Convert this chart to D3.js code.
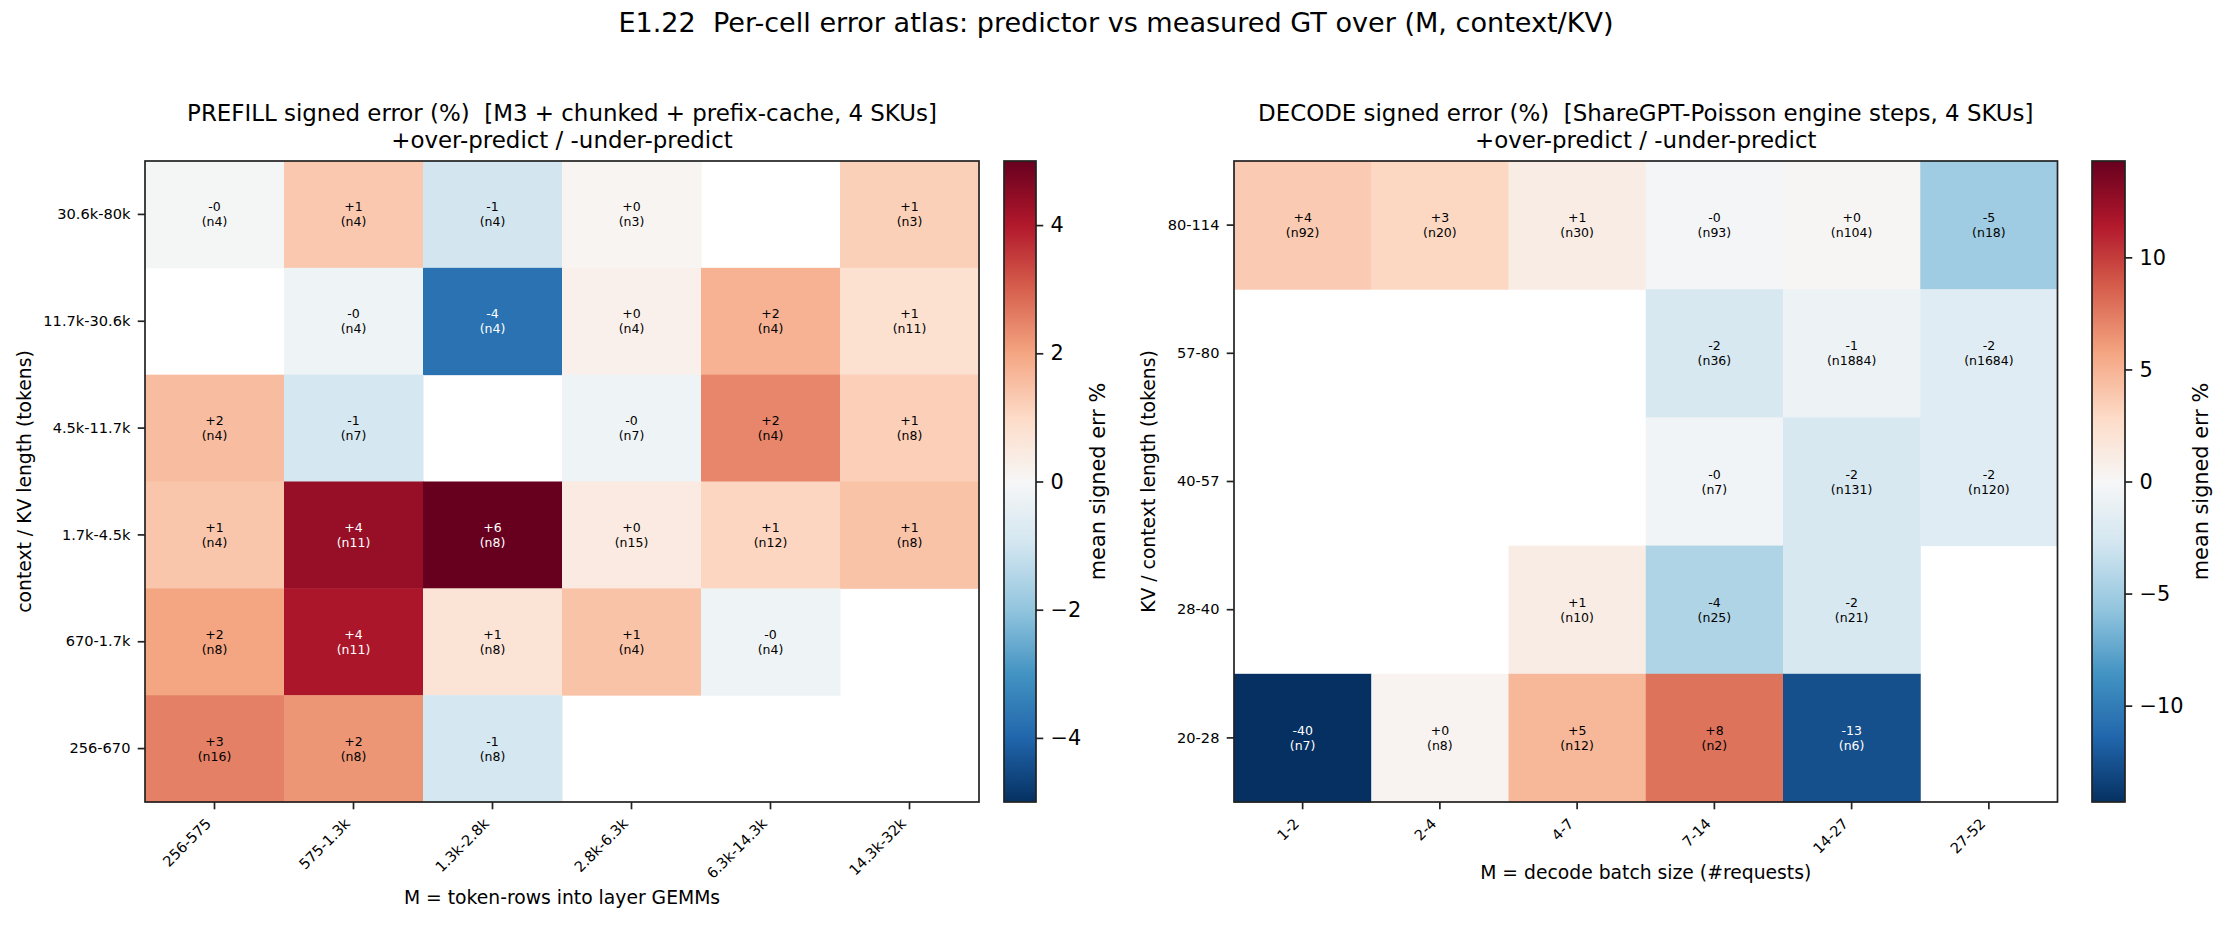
<!DOCTYPE html>
<html><head><meta charset="utf-8">
<script src="https://cdn.jsdelivr.net/npm/d3@7"></script>
<style>body{margin:0;background:#fff} svg{display:block} text{font-family:"DejaVu Sans";white-space:pre;}</style>
</head><body><svg id="c" width="2227" height="925"></svg>
<script>
// ---------------- data ----------------
const prefillCols = ["256-575","575-1.3k","1.3k-2.8k","2.8k-6.3k","6.3k-14.3k","14.3k-32k"];
const prefillRows = ["30.6k-80k","11.7k-30.6k","4.5k-11.7k","1.7k-4.5k","670-1.7k","256-670"];
const prefillErr = [
  [-0.08, 1.35, -0.95, 0.1, null, 1.2],
  [null, -0.24, -3.74, 0.25, 1.76, 0.82],
  [1.57, -0.9, null, -0.24, 2.45, 1.22],
  [1.39, 4.37, 5.8, 0.45, 1.09, 1.45],
  [2.0, 4.09, 0.68, 1.45, -0.24, null],
  [2.54, 2.22, -0.9, null, null, null]
];
const prefillN = [
  [4, 4, 4, 3, null, 3],
  [null, 4, 4, 4, 4, 11],
  [4, 7, null, 7, 4, 8],
  [4, 11, 8, 15, 12, 8],
  [8, 11, 8, 4, 4, null],
  [16, 8, 8, null, null, null]
];
const prefillLimit = 5;
const prefillCbTicks = [-4, -2, 0, 2, 4];

const decodeCols = ["1-2","2-4","4-7","7-14","14-27","27-52"];
const decodeRows = ["80-114","57-80","40-57","28-40","20-28"];
const decodeErr = [
  [3.72, 3.02, 1.12, -0.3, 0.2, -5.12],
  [null, null, null, -2.4, -0.75, -1.73],
  [null, null, null, -0.45, -2.4, -1.8],
  [null, null, 1.1, -4.4, -2.4, null],
  [-40, 0.4, 4.77, 7.8, -12.67, null]
];
const decodeN = [
  [92, 20, 30, 93, 104, 18],
  [null, null, null, 36, 1884, 1684],
  [null, null, null, 7, 131, 120],
  [null, null, 10, 25, 21, null],
  [7, 8, 12, 2, 6, null]
];
const decodeLimit = 14.3;
const decodeCbTicks = [-10, -5, 0, 5, 10];

const suptitle = "E1.22  Per-cell error atlas: predictor vs measured GT over (M, context/KV)";
const prefillTitle = ["PREFILL signed error (%)  [M3 + chunked + prefix-cache, 4 SKUs]", "+over-predict / -under-predict"];
const decodeTitle = ["DECODE signed error (%)  [ShareGPT-Poisson engine steps, 4 SKUs]", "+over-predict / -under-predict"];
const prefillXLabel = "M = token-rows into layer GEMMs";
const prefillYLabel = "context / KV length (tokens)";
const decodeXLabel = "M = decode batch size (#requests)";
const decodeYLabel = "KV / context length (tokens)";
const cbLabel = "mean signed err %";

// ---------------- style ----------------
const PT = 150 / 72;
const INK = "#222";
const RDBU_R = ["#053061","#2166ac","#4393c3","#92c5de","#d1e5f0","#f7f7f7","#fddbc7","#f4a582","#d6604d","#b2182b","#67001f"];

const svg = d3.select("#c");

svg.append("text")
  .attr("x", 1116).attr("y", 32)
  .attr("text-anchor", "middle")
  .attr("font-size", 13 * PT)
  .attr("fill", "#000")
  .text(suptitle);

function fmt(v) {
  const s = Math.abs(v).toFixed(0);
  return (v < 0 ? "-" : "+") + s;
}

function panel(cfg) {
  const g = svg.append("g");
  const x = d3.scaleBand().domain(cfg.cols).range([cfg.left, cfg.right]);
  const y = d3.scaleBand().domain(cfg.rows).range([cfg.top, cfg.bottom]);
  const L = cfg.limit;
  const color = d3.scaleLinear()
    .domain(d3.range(11).map(i => -L + i * 2 * L / 10))
    .range(RDBU_R)
    .interpolate(d3.interpolateRgb)
    .clamp(true);

  const cells = [];
  cfg.vals.forEach((row, ri) => row.forEach((v, ci) => {
    if (v !== null) cells.push({ r: cfg.rows[ri], c: cfg.cols[ci], v, n: cfg.n[ri][ci] });
  }));

  g.selectAll("rect.cell").data(cells).join("rect")
    .attr("class", "cell")
    .attr("x", d => x(d.c)).attr("y", d => y(d.r))
    .attr("width", x.bandwidth() + 0.5).attr("height", y.bandwidth() + 0.5)
    .attr("fill", d => color(d.v));

  const fs = 6 * PT;
  const lab = g.selectAll("g.lab").data(cells).join("g")
    .attr("class", "lab")
    .attr("transform", d => `translate(${x(d.c) + x.bandwidth() / 2},${y(d.r) + y.bandwidth() / 2})`)
    .attr("fill", d => Math.abs(d.v) > 0.6 * L ? "#fff" : "#000")
    .attr("font-size", fs)
    .attr("text-anchor", "middle");
  lab.append("text").attr("y", -7.5).attr("dominant-baseline", "central").text(d => fmt(d.v));
  lab.append("text").attr("y", 7.5).attr("dominant-baseline", "central").text(d => `(n${d.n})`);

  // frame
  g.append("rect")
    .attr("x", cfg.left).attr("y", cfg.top)
    .attr("width", cfg.right - cfg.left).attr("height", cfg.bottom - cfg.top)
    .attr("fill", "none").attr("stroke", INK).attr("stroke-width", 1.7);

  const tickLen = 3.5 * PT;
  // x axis
  const xa = g.append("g").attr("transform", `translate(0,${cfg.bottom})`)
    .call(d3.axisBottom(x).tickSize(tickLen).tickPadding(tickLen));
  xa.select(".domain").remove();
  xa.selectAll(".tick line").attr("stroke", INK).attr("stroke-width", 1.7);
  xa.selectAll(".tick text")
    .attr("font-size", 7 * PT).attr("font-family", "DejaVu Sans").attr("fill", "#000")
    .attr("text-anchor", "end")
    .attr("x", 0).attr("y", 0).attr("dy", 0)
    .attr("transform", `translate(-2.5,${2 * tickLen + 8}) rotate(-45)`);

  // y axis
  const ya = g.append("g").attr("transform", `translate(${cfg.left},0)`)
    .call(d3.axisLeft(y).tickSize(tickLen).tickPadding(tickLen));
  ya.select(".domain").remove();
  ya.selectAll(".tick line").attr("stroke", INK).attr("stroke-width", 1.7);
  ya.selectAll(".tick text")
    .attr("font-size", 7 * PT).attr("font-family", "DejaVu Sans").attr("fill", "#000");

  const xb = xa.node().getBBox();
  const yb = ya.node().getBBox();
  const cx = (cfg.left + cfg.right) / 2;
  const cy = (cfg.top + cfg.bottom) / 2;

  g.append("text")
    .attr("x", cx).attr("y", cfg.bottom + xb.y + xb.height + 4 * PT + 0.76 * 9 * PT)
    .attr("text-anchor", "middle").attr("font-size", 9 * PT).attr("fill", "#000")
    .text(cfg.xlabel);
  const ylx = cfg.left + yb.x - 4 * PT - 0.24 * 9 * PT;
  g.append("text")
    .attr("transform", `translate(${ylx},${cy}) rotate(-90)`)
    .attr("text-anchor", "middle").attr("font-size", 9 * PT).attr("fill", "#000")
    .text(cfg.ylabel);

  // title
  const tt = g.append("text").attr("text-anchor", "middle").attr("font-size", 11 * PT).attr("fill", "#000");
  tt.append("tspan").attr("x", cx).attr("y", cfg.top - 40).text(cfg.title[0]);
  tt.append("tspan").attr("x", cx).attr("y", cfg.top - 13).text(cfg.title[1]);

  // colorbar
  const cbs = d3.scaleLinear().domain([-L, L]).range([cfg.bottom, cfg.top]);
  const gid = "grad" + cfg.id;
  const grad = svg.append("defs").append("linearGradient")
    .attr("id", gid).attr("x1", 0).attr("y1", 1).attr("x2", 0).attr("y2", 0);
  d3.range(0, 1.0001, 0.02).forEach(t => {
    grad.append("stop").attr("offset", t).attr("stop-color", color(-L + 2 * L * t));
  });
  g.append("rect")
    .attr("x", cfg.cbLeft).attr("y", cfg.top)
    .attr("width", cfg.cbRight - cfg.cbLeft).attr("height", cfg.bottom - cfg.top)
    .attr("fill", `url(#${gid})`).attr("stroke", INK).attr("stroke-width", 1.7);
  const ca = g.append("g").attr("transform", `translate(${cfg.cbRight},0)`)
    .call(d3.axisRight(cbs).tickValues(cfg.cbTicks).tickSize(tickLen).tickPadding(tickLen)
      .tickFormat(d => (d < 0 ? "\u2212" + Math.abs(d) : String(d))));
  ca.select(".domain").remove();
  ca.selectAll(".tick line").attr("stroke", INK).attr("stroke-width", 1.7);
  ca.selectAll(".tick text").attr("font-size", 10 * PT).attr("font-family", "DejaVu Sans").attr("fill", "#000");
  const cb = ca.node().getBBox();
  const clx = cfg.cbRight + cb.x + cb.width + 4 * PT + 0.76 * 10 * PT;
  g.append("text")
    .attr("transform", `translate(${clx},${cy}) rotate(-90)`)
    .attr("text-anchor", "middle").attr("font-size", 10 * PT).attr("fill", "#000")
    .text(cbLabel);
}

panel({ id: "p", cols: prefillCols, rows: prefillRows, vals: prefillErr, n: prefillN, limit: prefillLimit,
  cbTicks: prefillCbTicks, left: 145, right: 979, top: 161, bottom: 802, cbLeft: 1004, cbRight: 1036,
  title: prefillTitle, xlabel: prefillXLabel, ylabel: prefillYLabel });
panel({ id: "d", cols: decodeCols, rows: decodeRows, vals: decodeErr, n: decodeN, limit: decodeLimit,
  cbTicks: decodeCbTicks, left: 1234, right: 2057.5, top: 161, bottom: 802, cbLeft: 2092, cbRight: 2125,
  title: decodeTitle, xlabel: decodeXLabel, ylabel: decodeYLabel });
</script>
</body></html>
